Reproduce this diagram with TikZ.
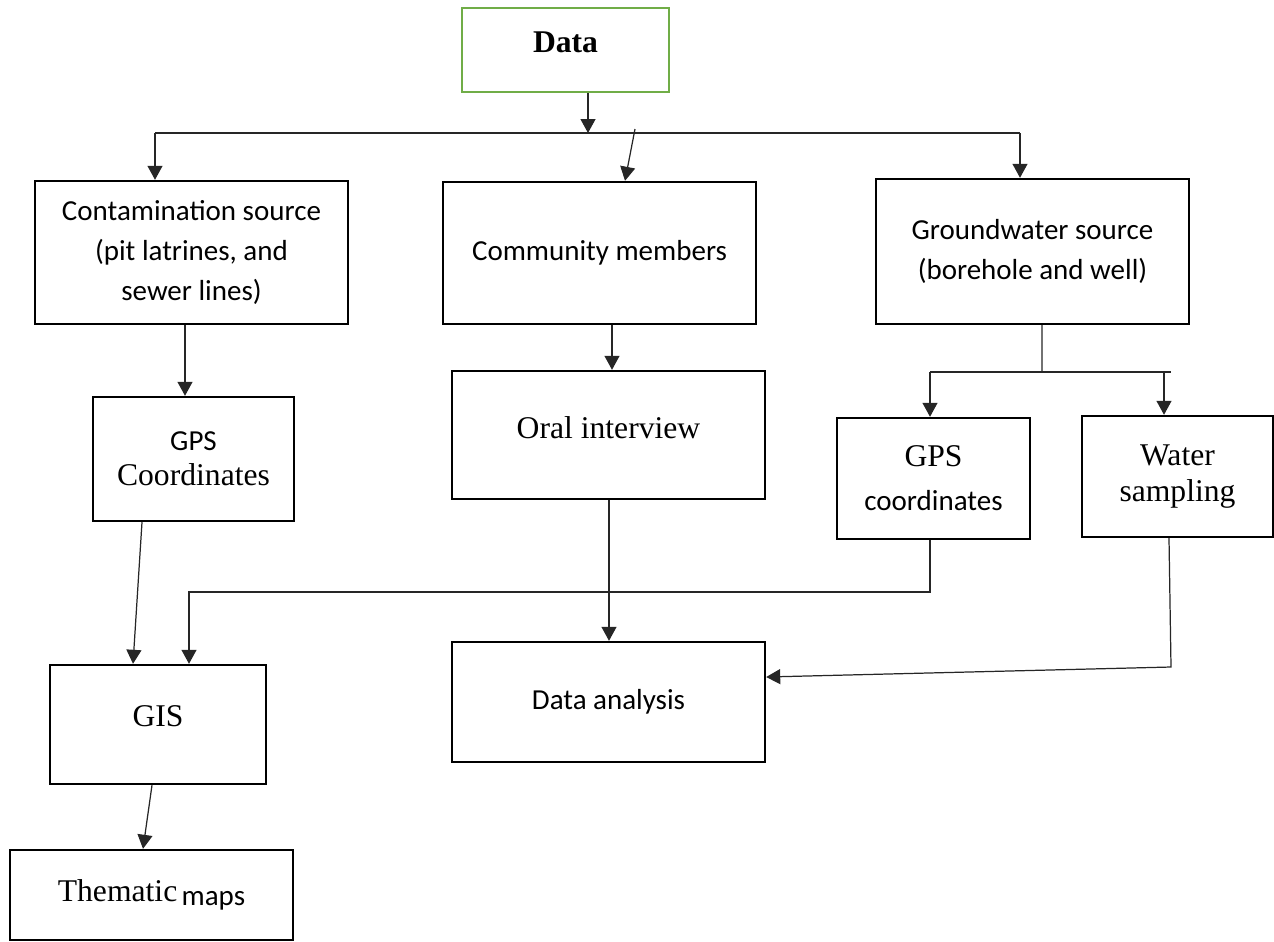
\documentclass[tikz,border=0pt]{standalone}
\usepackage{fontspec}
\setmainfont{Liberation Serif}
\newfontfamily\calibri{Carlito}
\usepackage{xcolor}
\usepackage{tikz}
\usetikzlibrary{positioning, calc, arrows.meta}
\definecolor{DataGreen}{RGB}{112,173,71}
\newcommand{\tms}{\fontsize{18}{21}\selectfont}
\newcommand{\cbr}{\calibri\fontsize{16.5}{22.7}\selectfont}
\tikzset{
    boxnode/.style={
        draw, line width=1.4pt, align=center, inner sep=2pt, anchor=center
    },
    boxsize/.style 2 args={
        minimum width=#1, minimum height=#2
    },
    link/.style={
        line width=0.7pt, black!85
    },
    arr/.style={
        link, -{Triangle[width=0.3cm, length=0.28cm]}
    }
}

\begin{document}
\begin{tikzpicture}[x=0.02cm, y=-0.02cm]
    \useasboundingbox (0,0) rectangle (1274,941);
    % boxes
    \node[boxnode, boxsize={4.14cm}{1.68cm}, draw=DataGreen, text depth=9pt] (data) at (565.5,50) {\tms\textbf{Data}};
    \node[boxnode, boxsize={6.26cm}{2.86cm}, font=\cbr] (contam) at (191.5,252.5) {Contamination source\\(pit latrines, and\\sewer lines)};
    \node[boxnode, boxsize={6.26cm}{2.84cm}, font=\cbr] (commun) at (599.5,253) {Community members};
    \node[boxnode, boxsize={6.26cm}{2.90cm}, font=\cbr] (groundw) at (1032.5,251.5) {Groundwater source\\(borehole and well)};
    \node[boxnode, boxsize={4.02cm}{2.48cm}, font=\tms] (gpsL) at (193.5,459) {{\cbr GPS}\\[-1pt]Coordinates};
    \node[boxnode, boxsize={6.26cm}{2.56cm}, font=\tms, text depth=9pt] (oral) at (608.5,435) {Oral interview};
    \node[boxnode, boxsize={3.86cm}{2.42cm}, font=\tms] (gpsR) at (933.5,478.5) {GPS\\[4pt]{\cbr coordinates}};
    \node[boxnode, boxsize={3.82cm}{2.42cm}, font=\tms] (water) at (1177.5,476.5) {Water\\sampling};
    \node[boxnode, boxsize={4.32cm}{2.38cm}, font=\tms, text depth=10pt] (gis) at (158,724.5) {GIS};
    \node[boxnode, boxsize={6.26cm}{2.40cm}, font=\cbr] (analysis) at (608.5,702) {Data analysis};
    \node[boxnode, boxsize={5.66cm}{1.80cm}] (maps) at (151.5,895) {{\tms Thematic} {\cbr\raisebox{-2pt}{maps}}};

    % top split
    \coordinate (hub) at (588,133);
    \coordinate (hubL) at (155,133);
    \coordinate (hubR) at (1020,133);
    \coordinate (tick) at (635,129);
    \draw[arr] (data.south -| hub) -- (hub);
    \draw[link] (hubL) -- (hubR);
    \draw[arr] (hubL) -- (hubL |- contam.north);
    \draw[arr] (hubR) -- (hubR |- groundw.north);
    \draw[arr] (tick) -- ($(commun.north)+(25.5,0)$);

    % second level
    \draw[arr] ($(contam.south)+(-6.5,0)$) -- ($(gpsL.north)+(-8.5,0)$);
    \draw[arr] ($(commun.south)+(12.5,0)$) -- ($(oral.north)+(3.5,0)$);
    \coordinate (forkR) at (1042,372);
    \coordinate (forkRa) at (930,372);
    \coordinate (forkRb) at (1171,372);
    \coordinate (forkRc) at (1164,372);
    \draw[link] ($(groundw.south)+(9.5,0)$) -- (forkR);
    \draw[link] (forkRa) -- (forkRb);
    \draw[arr] (forkRa) -- (forkRa |- gpsR.north);
    \draw[arr] (forkRc) -- (forkRc |- water.north);

    % to GIS and analysis
    \coordinate (gpsbend) at (930,592);
    \coordinate (gisbend) at (189,592);
    \coordinate (wbend) at (1171,667);
    \draw[arr] (gpsR.south -| gpsbend) -- (gpsbend) -- (gisbend) -- (gisbend |- gis.north);
    \draw[arr] ($(gpsL.south)+(-51.5,0)$) -- ($(gis.north)+(-25,0)$);
    \draw[arr] ($(oral.south)+(0.5,0)$) -- ($(analysis.north)+(0.5,0)$);
    \draw[arr] ($(water.south)+(-8.5,0)$) -- (wbend) -- ($(analysis.east)+(0,-25)$);
    \draw[arr] ($(gis.south)+(-6,0)$) -- ($(maps.north)+(-8.5,0)$);
\end{tikzpicture}
\end{document}
